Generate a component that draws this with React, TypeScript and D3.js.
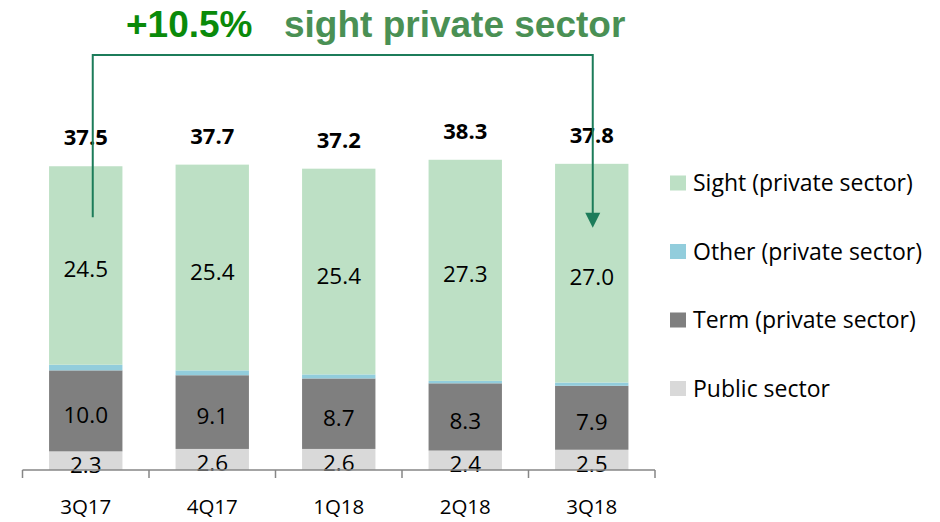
import React from "react";
import * as d3 from "d3";

const categories = ["3Q17", "4Q17", "1Q18", "2Q18", "3Q18"];
const publicSector = [2.3, 2.6, 2.6, 2.4, 2.5];
const termPrivate = [10.0, 9.1, 8.7, 8.3, 7.9];
const otherPrivate = [0.7, 0.6, 0.5, 0.3, 0.4];
const sightPrivate = [24.5, 25.4, 25.4, 27.3, 27.0];
const totals = [37.5, 37.7, 37.2, 38.3, 37.8];

const seriesNames = ["Public sector", "Term (private sector)", "Other (private sector)", "Sight (private sector)"];
const seriesColors = ["#d9d9d9", "#7f7f7f", "#92cddc", "#bde0c5"];
const seriesShowLabel = [true, true, false, true];
const legendOrder = [3, 2, 1, 0];

const W = 940;
const H = 522;
const FONT = "'Open Sans', sans-serif";

export default function App() {
  const x = d3.scaleBand<string>().domain(categories).range([22.5, 655]).padding(0);
  const barW = x.bandwidth() * 0.58;
  const y = d3.scaleLinear().domain([0, 40]).range([470, 470 - 40 * 8.1]);

  const rows = categories.map((c, i) => ({
    cat: c,
    s0: publicSector[i],
    s1: termPrivate[i],
    s2: otherPrivate[i],
    s3: sightPrivate[i],
  }));
  const stack = d3.stack<any>().keys(["s0", "s1", "s2", "s3"]);
  const layers = stack(rows);

  const cx = (c: string) => (x(c) as number) + x.bandwidth() / 2;

  const arrowColor = "#1c7c5a";
  const ax1 = cx(categories[0]) + 7;
  const ax2 = cx(categories[4]) + 1;
  const ayTop = 55;
  const ayL = y(31.2);
  const ayR = y(29.9);

  return (
    <svg width={W} height={H} style={{ position: "absolute", left: 0, top: 0 }}>
      <rect x={0} y={0} width={W} height={H} fill="#fff" />
      {/* bars */}
      {layers.map((layer, li) => (
        <g key={li}>
          {layer.map((d, i) => (
            <rect
              key={i}
              x={cx(categories[i]) - barW / 2}
              y={y(d[1])}
              width={barW}
              height={y(d[0]) - y(d[1])}
              fill={seriesColors[li]}
            />
          ))}
        </g>
      ))}
      {/* segment labels */}
      {layers.map((layer, li) =>
        seriesShowLabel[li]
          ? layer.map((d, i) => (
              <text
                key={`l${li}-${i}`}
                x={cx(categories[i])}
                y={(y(d[0]) + y(d[1])) / 2 + 12}
                textAnchor="middle"
                fontFamily={FONT}
                fontSize={22.5}
                fill="#000"
              >
                {(d[1] - d[0]).toFixed(1)}
              </text>
            ))
          : null
      )}
      {/* totals */}
      {totals.map((t, i) => (
        <text
          key={`t${i}`}
          x={cx(categories[i])}
          y={y(t) - 21}
          textAnchor="middle"
          fontFamily={FONT}
          fontWeight="bold"
          fontSize={22}
          fill="#000"
        >
          {t.toFixed(1)}
        </text>
      ))}
      {/* axis */}
      <g stroke="#868686" strokeWidth={1.5} fill="none">
        <line x1={22.5} x2={655} y1={y(0)} y2={y(0)} />
        {categories.map((c, i) => (
          <line key={i} x1={x(c) as number} x2={x(c) as number} y1={y(0)} y2={y(0) + 8} />
        ))}
        <line x1={655} x2={655} y1={y(0)} y2={y(0) + 8} />
      </g>
      {categories.map((c) => (
        <text key={c} x={cx(c)} y={514} textAnchor="middle" fontFamily={FONT} fontSize={20.5} fill="#000">
          {c}
        </text>
      ))}
      {/* legend */}
      {legendOrder.map((si, k) => {
        const ly = 183 + k * 68.5;
        return (
          <g key={si}>
            <rect x={670} y={ly - 7.5} width={16} height={15} fill={seriesColors[si]} />
            <text x={693} y={ly + 8} fontFamily={FONT} fontSize={23} fill="#000">
              {seriesNames[si]}
            </text>
          </g>
        );
      })}
      {/* annotation arrow */}
      <path
        d={`M${ax1},${ayL} V${ayTop} H${ax2} V${ayR - 14}`}
        fill="none"
        stroke={arrowColor}
        strokeWidth={2}
      />
      <path d={`M${ax2 - 7.5},${ayR - 15} L${ax2 + 7.5},${ayR - 15} L${ax2},${ayR} Z`} fill={arrowColor} />
      {/* title */}
      <text x={126} y={37} fontFamily="'Liberation Sans', Arial, sans-serif" fontWeight="bold" fontSize={37}>
        <tspan fill="#0a8a0a">+10.5%</tspan>
        <tspan x={284} fill="#4a9054">sight private sector</tspan>
      </text>
    </svg>
  );
}
